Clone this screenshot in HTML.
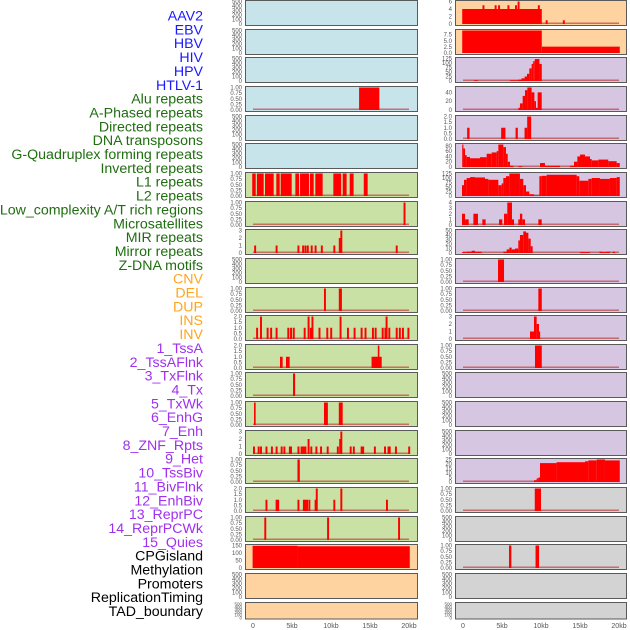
<!DOCTYPE html>
<html><head><meta charset="utf-8"><style>
html,body{margin:0;padding:0;background:#fff;width:630px;height:630px;overflow:hidden}
svg{display:block}
</style></head><body>
<svg id="chart" width="630" height="630" viewBox="0 0 630 630" xmlns="http://www.w3.org/2000/svg"></svg>
<script>
// ---------- data ----------
const labelNames = ["AAV2","EBV","HBV","HIV","HPV","HTLV-1","Alu repeats","A-Phased repeats","Directed repeats","DNA transposons","G-Quadruplex forming repeats","Inverted repeats","L1 repeats","L2 repeats","Low_complexity A/T rich regions","Microsatellites","MIR repeats","Mirror repeats","Z-DNA motifs","CNV","DEL","DUP","INS","INV","1_TssA","2_TssAFlnk","3_TxFlnk","4_Tx","5_TxWk","6_EnhG","7_Enh","8_ZNF_Rpts","9_Het","10_TssBiv","11_BivFlnk","12_EnhBiv","13_ReprPC","14_ReprPCWk","15_Quies","CPGisland","Methylation","Promoters","ReplicationTiming","TAD_boundary"];
const labelGroups = ["v","v","v","v","v","v","r","r","r","r","r","r","r","r","r","r","r","r","r","s","s","s","s","s","c","c","c","c","c","c","c","c","c","c","c","c","c","c","c","k","k","k","k","k"];
const xTicks = [0,5,10,15,20];
const xTickLabels = ["0","5kb","10kb","15kb","20kb"];

const c1Alu = [[13.6,16.2,1]];
const c1L1 = [[-0.1,0.35,1],[0.5,1.37,1],[1.54,2.65,1],[2.99,3.42,1],[3.55,4.96,1],[5.43,5.9,1],[6.03,7.18,1],[7.3,7.78,1],[7.99,8.93,1],[10.3,11.3,1],[11.5,12.0,1],[12.4,12.9,1],[14.2,14.7,1]];
const c1L2 = [[19.3,19.55,1]];
const c1Micro = [[0.15,1],[2.9,1],[5.7,1],[6.3,1],[6.6,1],[6.9,1],[7.4,1],[7.9,1],[8.7,1],[10.3,1],[11.0,2],[11.2,3],[18.3,1]];
const c1Del = [[9.1,9.35,1],[11.0,11.4,1]];
const c1Ins = [[0.4,1],[0.9,2],[1.75,1],[2.2,1],[2.9,1],[4.4,1],[4.75,1],[5.1,1],[6.5,1],[7.0,2],[7.3,1],[7.5,2],[8.4,1],[9.4,1],[9.9,1],[11.1,2],[12.05,1],[12.9,1],[13.8,1],[14.3,1],[15.25,1],[15.6,1],[16.5,1],[16.85,1],[17.0,2],[17.35,1],[18.3,1],[18.7,1],[19.1,1],[19.8,1]];
const c1TssA = [[3.46,3.8,1],[4.23,4.7,1],[15.2,16.5,1],[16.0,16.2,2]];
const c1TxFlnk = [[5.13,5.4,1]];
const c1TxWk = [[0.13,0.34,1],[9.1,9.6,1],[11.0,11.5,1]];
const c1Enh = [[0,1],[0.6,1],[0.9,1],[1.6,1],[2.3,1],[2.9,1],[3.55,1],[3.9,1],[4.6,1],[4.75,1],[5.7,1],[6.1,1],[6.35,1],[6.6,1],[7.0,2],[7.35,1],[8.0,1],[8.6,1],[9.45,1],[10.75,1],[11.05,2],[11.2,3],[12.4,1],[12.8,1],[13.8,1],[14.0,1],[15.5,1],[16.8,1],[17.25,1],[17.4,1],[18.2,1],[19.9,1]];
const c1Het = [[5.7,6.0,1]];
const c1BivFlnk = [[1.6,1],[2.9,1],[3.1,1],[5.7,1],[6.4,1],[6.6,1],[6.8,1],[7.1,1],[7.9,1],[8.05,2],[10.3,1],[11.2,2],[17.05,1]];
const c1ReprPC = [[1.45,1.7,1],[9.5,9.75,1],[18.6,18.85,1]];
const c1Cpg = [[-0.05,5.7,148],[5.7,20.1,145]];

const c2Aav = [[-0.1,10.1,4],[2.5,2.75,5],[4.06,4.31,5],[4.5,4.75,5],[5.7,5.95,5],[6.67,6.92,5],[7.0,7.25,6],[9.6,9.85,5],[10.6,10.85,1],[12.8,13.05,1]];
const c2Ebv = [[-0.1,10.1,9.2],[10.1,20.1,2.6]];
const c2Hiv = [[1.4,1.9,4],[6.0,7.1,4],[7.1,7.5,8],[7.5,7.9,15],[7.9,8.2,25],[8.2,8.5,40],[8.5,8.8,70],[8.8,9.0,95],[9.0,9.2,110],[9.2,9.8,122],[9.8,10.1,95]];
const c2Alu = [[7.1,7.3,5],[7.3,7.65,15],[7.65,7.95,32],[7.95,8.25,45],[8.25,8.8,51],[8.8,9.15,40],[9.15,9.36,20],[9.36,9.57,5],[9.57,10.09,40]];
const c2APhased = [[0.53,0.84,1],[4.89,5.44,1],[6.74,7.03,1],[7.89,8.23,1],[8.23,8.74,2]];
const c2GQuad = [[-0.1,0.04,85],[0.04,0.26,70],[0.26,0.47,45],[0.47,0.9,38],[0.9,2.18,33],[2.18,3.03,37],[3.03,3.68,50],[3.68,4.32,55],[4.32,4.53,60],[4.53,5.17,85],[5.17,5.51,75],[5.51,5.73,50],[5.73,6.03,20],[6.03,6.45,5],[7.09,7.6,3],[9.87,10.51,15],[10.51,12.44,5],[13.72,14.23,5],[14.23,14.66,20],[14.66,15.0,40],[15.0,15.64,47],[15.64,16.28,40],[16.28,16.5,30],[16.5,17.35,25],[17.35,18.63,28],[18.63,19.7,22],[19.7,20.1,15]];
const c2L1 = [[-0.13,0.13,60],[0.13,0.47,90],[0.47,0.9,100],[0.9,1.54,105],[1.54,2.82,103],[2.82,3.25,95],[3.25,4.53,90],[4.53,4.96,60],[4.96,5.17,70],[5.17,5.51,100],[5.51,5.94,110],[5.94,7.3,125],[7.3,7.73,95],[7.73,8.08,60],[8.08,8.5,25],[8.5,9.1,10],[9.1,9.79,3],[9.79,10.09,110],[10.09,10.73,112],[10.73,14.57,118],[14.57,14.91,110],[14.91,16.07,85],[16.07,16.5,95],[16.5,17.56,100],[17.56,18.84,95],[18.84,19.7,100],[19.7,20.1,105]];
const c2LowCx = [[-0.13,0.26,2],[0.26,0.73,1],[1.33,1.92,2],[2.48,2.9,1],[4.62,5.04,1],[5.26,5.68,2],[5.68,6.28,4],[6.28,6.54,1],[7.09,7.3,1],[7.3,7.6,2],[7.6,7.95,1],[9.66,10.09,1]];
const c2Mir = [[-0.13,0.47,2],[0.47,1.11,3],[1.11,1.54,5],[1.54,2.39,3],[5.17,5.6,3],[5.6,5.94,8],[5.94,6.24,12],[6.24,6.67,8],[6.67,7.09,10],[7.09,7.3,28],[7.3,7.73,40],[7.73,8.08,48],[8.08,8.38,45],[8.38,8.68,32],[8.68,8.93,15],[15.0,16.28,2],[17.5,17.9,3],[17.9,18.4,2],[18.4,18.85,3],[19.2,19.5,3]];
const c2Zdna = [[4.49,5.26,1]];
const c2Cnv = [[9.66,10.1,1]];
const c2Del = [[8.59,9.1,1],[9.1,9.44,3],[9.44,9.74,2],[9.74,9.87,1]];
const c2Dup = [[9.23,10.1,1]];
const c2TssBiv = [[9.1,9.44,2],[9.44,9.66,4],[9.66,9.87,5],[9.87,12.0,21],[12.0,15.64,22],[15.64,16.07,23],[16.07,17.14,24],[17.14,18.2,25],[18.2,20.1,24]];
const c2BivFlnk = [[9.2,10.0,1]];
const c2Cpg = [[5.9,6.2,1],[9.3,9.75,1]];

// tick sets (values + labels)
const tEmpty = [0,100,200,300,400,500], lEmpty = ["0","100","200","300","400","500"];
const tOne = [0,0.25,0.5,0.75,1], lOne = ["0.00","0.25","0.50","0.75","1.00"];
const tTwo = [0,0.5,1,1.5,2], lTwo = ["0.0","0.5","1.0","1.5","2.0"];
const tThree = [0,1,2,3], lThree = ["0","1","2","3"];
const tAav = [0,2,4,6], lAav = ["0","2","4","6"];
const tEbv = [0,2.5,5,7.5], lEbv = ["0.0","2.5","5.0","7.5"];
const t125 = [0,25,50,75,100,125], l125 = ["0","25","50","75","100","125"];
const tAlu = [0,20,40], lAlu = ["0","20","40"];
const tGq = [0,20,40,60,80], lGq = ["0","20","40","60","80"];
const tFour = [0,1,2,3,4], lFour = ["0","1","2","3","4"];
const tMir = [0,10,20,30,40,50], lMir = ["0","10","20","30","40","50"];
const tBiv = [0,5,10,15,20,25], lBiv = ["0","5","10","15","20","25"];
const tCpg = [0,50,100,150], lCpg = ["0","50","100","150"];

// ---------- layout ----------
const svg = document.getElementById('chart');
const NS = 'http://www.w3.org/2000/svg';
const COLS = [{x:245,w:172,x0:253},{x:455,w:171,x0:463}];
const PXKB = 7.8;
const ROWTOP = i => Math.round(i*28.65);
const bg = {b:'#c8e4eb',o:'#fed3a0',l:'#d6c6e2',g:'#c9e1a5',y:'#d3d3d3'};
const labelColor = {v:'#1a1aff',r:'#1f6e10',s:'#ffa51f',c:'#a030f0',k:'#000'};

function mk(tag, attrs){const e=document.createElementNS(NS,tag);for(const k in attrs)e.setAttribute(k,attrs[k]);return e;}

const c1bg = ['b','b','b','b','b','b','g','g','g','g','g','g','g','g','g','g','g','g','g','o','o','o'];
const c2bg = ['o','o','l','l','l','l','l','l','l','l','l','l','l','l','l','l','l','y','y','y','y','y'];
const c1 = {3:[c1Alu,null,tOne,lOne,1],6:[c1L1,null,tOne,lOne,1],7:[c1L2,null,tOne,lOne,1],8:[null,c1Micro,tThree,lThree,3],10:[c1Del,null,tOne,lOne,1],11:[null,c1Ins,tTwo,lTwo,2],12:[c1TssA,null,tTwo,lTwo,2],13:[c1TxFlnk,null,tOne,lOne,1],14:[c1TxWk,null,tOne,lOne,1],15:[null,c1Enh,tThree,lThree,3],16:[c1Het,null,tOne,lOne,1],17:[null,c1BivFlnk,tTwo,lTwo,2],18:[c1ReprPC,null,tOne,lOne,1],19:[c1Cpg,null,tCpg,lCpg,150]};
const c2 = {0:[c2Aav,null,tAav,lAav,6],1:[c2Ebv,null,tEbv,lEbv,9.2],2:[c2Hiv,null,t125,l125,125],3:[c2Alu,null,tAlu,lAlu,51],4:[c2APhased,null,tTwo,lTwo,2],5:[c2GQuad,null,tGq,lGq,85],6:[c2L1,null,t125,l125,125],7:[c2LowCx,null,tFour,lFour,4],8:[c2Mir,null,tMir,lMir,50],9:[c2Zdna,null,tOne,lOne,1],10:[c2Cnv,null,tOne,lOne,1],11:[c2Del,null,tThree,lThree,3],12:[c2Dup,null,tOne,lOne,1],16:[c2TssBiv,null,tBiv,lBiv,25],17:[c2BivFlnk,null,tOne,lOne,1],19:[c2Cpg,null,tOne,lOne,1]};

function drawPanel(ci, r, bgKey, spec){
  const C = COLS[ci], T = ROWTOP(r), H = r===21?16.5:25;
  const g = mk('g',{});
  
  
  svg.appendChild(g);
  const rect = mk('rect',{x:C.x+0.5,y:T+0.5,width:C.w,height:H,fill:bg[bgKey],stroke:'#5a5a5a','stroke-width':1});
  
  
  g.appendChild(rect);
  const segs = spec?spec[0]:null, spikes = spec?spec[1]:null;
  const ticks = spec?spec[2]:tEmpty, tl = spec?spec[3]:lEmpty, ymax = spec?spec[4]:500;
  const yb = T+H-1, yt = T+1.5;
  const yS = v => yb - v/ymax*(yb-yt);
  const xS = kb => C.x0 + kb*PXKB;
  ticks.forEach((tv,i)=>{
    const t = mk('text',{x:C.x-3,y:yS(tv)+2,'font-size':(r===21?4.5:6),'text-anchor':'end',fill:'#555','font-family':'Liberation Sans, sans-serif'});
    t.textContent = tl[i];
    
    
    g.appendChild(t);
  });
  if(!spec) return;
  const base = mk('rect',{x:xS(0),y:yb-1.5,width:xS(20)-xS(0),height:1.5,fill:'#c04040','fill-opacity':0.7});
  
  
  g.appendChild(base);
  const drawBar=(s,e,v)=>{
    const b = mk('rect',{x:xS(s),y:yS(v),width:Math.max(1.2,xS(e)-xS(s)),height:yb-yS(v),fill:'#ff0000'});
    
    
    g.appendChild(b);
  };
  if(segs) segs.forEach(d=>drawBar(d[0],d[1],d[2]));
  if(spikes) spikes.forEach(d=>drawBar(d[0],d[0]+0.25,d[1]));
}
for(let r=0;r<22;r++){ drawPanel(0,r,c1bg[r],c1[r]||null); drawPanel(1,r,c2bg[r],c2[r]||null); }

// x axis
COLS.forEach((C,ci)=>{
  xTicks.forEach((kb,i)=>{
    const t = mk('text',{x:C.x0+kb*PXKB,y:628,'font-size':7,'text-anchor':'middle',fill:'#555','font-family':'Liberation Sans, sans-serif'});
    t.textContent = xTickLabels[i];
    
    
    svg.appendChild(t);
  });
});

// left labels
labelNames.forEach((n,i)=>{
  const t = mk('text',{x:203,y:20.5+i*13.85,'font-size':14.2,'text-anchor':'end',fill:labelColor[labelGroups[i]],'font-family':'Liberation Sans, sans-serif'});
  t.textContent = n;
  
  
  svg.appendChild(t);
});
</script>
</body></html>
